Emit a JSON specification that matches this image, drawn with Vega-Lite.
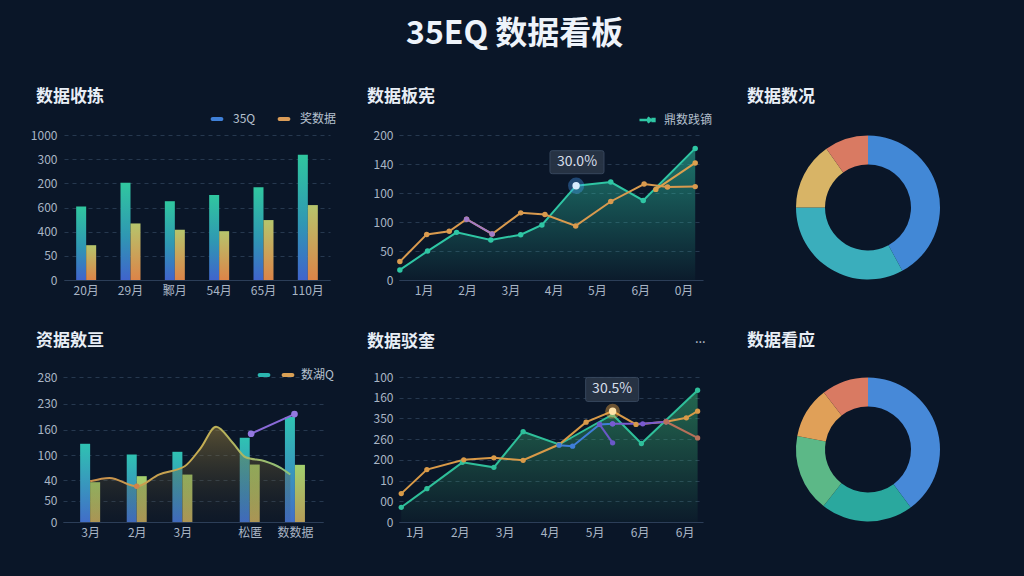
{
  "$schema": "https://vega.github.io/schema/vega-lite/v6.json",
  "background": "#0a1628",
  "padding": {"left": 29, "top": 18, "right": 67, "bottom": 38},
  "title": {
    "text": "35EQ 数据看板",
    "anchor": "start",
    "frame": "group",
    "dx": 343,
    "fontSize": 32,
    "fontWeight": "bold",
    "color": "#eef3fa",
    "offset": 37
  },
  "datasets": {
    "p1": [
      {"m": "20月", "s": "35Q", "v": 152}, {"m": "20月", "s": "奖数据", "v": 72},
      {"m": "29月", "s": "35Q", "v": 201}, {"m": "29月", "s": "奖数据", "v": 117},
      {"m": "鄹月", "s": "35Q", "v": 163}, {"m": "鄹月", "s": "奖数据", "v": 104},
      {"m": "54月", "s": "35Q", "v": 176}, {"m": "54月", "s": "奖数据", "v": 101},
      {"m": "65月", "s": "35Q", "v": 192}, {"m": "65月", "s": "奖数据", "v": 124},
      {"m": "110月", "s": "35Q", "v": 259}, {"m": "110月", "s": "奖数据", "v": 155}
    ],
    "p2": [
      {"s": "teal", "x": 0.45, "y": 13.9}, {"s": "teal", "x": 1.09, "y": 39.9},
      {"s": "teal", "x": 1.76, "y": 65.7}, {"s": "teal", "x": 2.55, "y": 55.1},
      {"s": "teal", "x": 3.24, "y": 62.5}, {"s": "teal", "x": 3.73, "y": 76.0},
      {"s": "teal", "x": 4.52, "y": 130.1}, {"s": "teal", "x": 5.32, "y": 135.1},
      {"s": "teal", "x": 6.07, "y": 109.7}, {"s": "teal", "x": 7.27, "y": 181.5},
      {"s": "orange", "x": 0.45, "y": 25.4}, {"s": "orange", "x": 1.07, "y": 62.9},
      {"s": "orange", "x": 1.59, "y": 67.1}, {"s": "orange", "x": 1.99, "y": 83.8},
      {"s": "orange", "x": 2.58, "y": 63.5}, {"s": "orange", "x": 3.24, "y": 92.6},
      {"s": "orange", "x": 3.8, "y": 90.3}, {"s": "orange", "x": 4.51, "y": 74.6},
      {"s": "orange", "x": 5.32, "y": 108.3}, {"s": "orange", "x": 6.09, "y": 132.4},
      {"s": "orange", "x": 6.63, "y": 128.2}, {"s": "orange", "x": 7.27, "y": 128.8},
      {"s": "orange2", "x": 6.36, "y": 125}, {"s": "orange2", "x": 7.27, "y": 161.5},
      {"s": "purple", "x": 1.99, "y": 83.8}, {"s": "purple", "x": 2.58, "y": 63.5}
    ],
    "p2hi": [{"x": 4.52, "y": 130.1}],
    "p2tip": [{"x": 4.54, "y": 162.5, "t": "30.0%"}],
    "p3": [
      {"k": "a", "v": 42.1, "o": 1}, {"k": "b", "v": 32.9, "o": 2},
      {"k": "c", "v": 15.2, "o": 3}, {"k": "d", "v": 9.8, "o": 4}
    ],
    "p4bars": [
      {"p": 1, "s": "a", "v": 78}, {"p": 1, "s": "b", "v": 39.7},
      {"p": 2.01, "s": "a", "v": 67.3}, {"p": 2.01, "s": "b", "v": 45.7},
      {"p": 3, "s": "a", "v": 70}, {"p": 3, "s": "b", "v": 47.3},
      {"p": 4.46, "s": "a", "v": 84}, {"p": 4.46, "s": "b", "v": 57.3},
      {"p": 5.44, "s": "a", "v": 104.7}, {"p": 5.44, "s": "b", "v": 57}
    ],
    "p4curve": [
      {"p": 1.0, "v": 40.6}, {"p": 1.42, "v": 44}, {"p": 2.01, "v": 35.6},
      {"p": 2.49, "v": 47.3}, {"p": 3.05, "v": 55.6}, {"p": 3.4, "v": 74},
      {"p": 3.73, "v": 95}, {"p": 4.09, "v": 79}, {"p": 4.37, "v": 64.6},
      {"p": 4.79, "v": 60.6}, {"p": 5.13, "v": 54}, {"p": 5.34, "v": 47.3}
    ],
    "p4mark": [{"p": 2.01, "v": 35.6}],
    "p4purple": [{"p": 4.49, "v": 88}, {"p": 5.43, "v": 107.6}],
    "p5": [
      {"s": "teal", "x": 0.7, "y": 0.71}, {"s": "teal", "x": 1.27, "y": 1.61},
      {"s": "teal", "x": 2.06, "y": 2.88}, {"s": "teal", "x": 2.76, "y": 2.64},
      {"s": "teal", "x": 3.41, "y": 4.36}, {"s": "teal", "x": 4.21, "y": 3.74},
      {"s": "teal", "x": 5.4, "y": 5.19}, {"s": "teal", "x": 6.04, "y": 3.79},
      {"s": "teal", "x": 7.29, "y": 6.36},
      {"s": "orange", "x": 0.7, "y": 1.37}, {"s": "orange", "x": 1.27, "y": 2.53},
      {"s": "orange", "x": 2.09, "y": 3.0}, {"s": "orange", "x": 2.76, "y": 3.1},
      {"s": "orange", "x": 3.41, "y": 2.98}, {"s": "orange", "x": 4.21, "y": 3.74},
      {"s": "orange", "x": 4.81, "y": 4.82}, {"s": "orange", "x": 5.4, "y": 5.35},
      {"s": "orange", "x": 5.92, "y": 4.71}, {"s": "orange", "x": 6.59, "y": 4.84},
      {"s": "orange", "x": 7.04, "y": 5.03}, {"s": "orange", "x": 7.29, "y": 5.35},
      {"s": "blue", "x": 4.21, "y": 3.71}, {"s": "blue", "x": 4.51, "y": 3.66},
      {"s": "blue", "x": 5.11, "y": 4.71}, {"s": "blue", "x": 5.4, "y": 4.74},
      {"s": "purple", "x": 5.4, "y": 4.74}, {"s": "purple", "x": 6.07, "y": 4.74},
      {"s": "purple", "x": 6.59, "y": 4.84},
      {"s": "purple2", "x": 5.11, "y": 4.71}, {"s": "purple2", "x": 5.4, "y": 3.82},
      {"s": "brown", "x": 6.59, "y": 4.84}, {"s": "brown", "x": 7.29, "y": 4.06}
    ],
    "p5hi": [{"x": 5.4, "y": 5.35}],
    "p5tip": [{"x": 5.39, "y": 6.4, "t": "30.5%"}],
    "p5more": [{"x": 7.35, "y": 8.85, "t": "..."}],
    "p6": [
      {"k": "a", "v": 39.9, "o": 1}, {"k": "b", "v": 20.7, "o": 2},
      {"k": "c", "v": 17.4, "o": 3}, {"k": "d", "v": 11.5, "o": 4},
      {"k": "e", "v": 10.5, "o": 5}
    ]
  },
  "bounds": "flush",
  "columns": 3,
  "spacing": {"row": 97, "column": 76},
  "resolve": {
    "scale": {"x": "independent", "y": "independent", "color": "independent", "theta": "independent"},
    "legend": {"color": "independent"}
  },
  "concat": [
    {
      "width": 260,
      "height": 145,
      "title": {"text": "数据收拣", "offset": 5, "dx": 7},
      "data": {"name": "p1"},
      "encoding": {
        "x": {
          "field": "m", "type": "nominal", "sort": null,
          "scale": {"range": [1, 267], "paddingInner": 0, "paddingOuter": 0},
          "axis": {"title": null, "labelAngle": 0}
        },
        "y": {
          "field": "v", "type": "quantitative",
          "scale": {"domain": [0, 300], "nice": false},
          "axis": {
            "title": null, "grid": true,
            "values": [0, 50, 100, 150, 200, 250, 300],
            "labelExpr": "['0','50','400','600','200','300','1000'][datum.value/50]"
          }
        }
      },
      "layer": [
        {
          "transform": [{"filter": "datum.s == '35Q'"}],
          "mark": {
            "type": "bar", "width": 10, "xOffset": -5,
            "fill": {
              "gradient": "linear", "x1": 0, "y1": 0, "x2": 0, "y2": 1,
              "stops": [{"offset": 0, "color": "#30c79f"}, {"offset": 0.55, "color": "#2f97b3"}, {"offset": 1, "color": "#4064cc"}]
            }
          }
        },
        {
          "transform": [{"filter": "datum.s == '奖数据'"}],
          "mark": {
            "type": "bar", "width": 10, "xOffset": 5,
            "fill": {
              "gradient": "linear", "x1": 0, "y1": 0, "x2": 0, "y2": 1,
              "stops": [{"offset": 0, "color": "#b6c56c"}, {"offset": 1, "color": "#dc8448"}]
            }
          }
        },
        {
          "mark": {"type": "bar"},
          "encoding": {
            "y": {"datum": 0, "type": "quantitative"},
            "y2": {"datum": 0},
            "color": {
              "field": "s", "type": "nominal",
              "scale": {"domain": ["35Q", "奖数据"], "range": ["#3f80d8", "#d99c58"]},
              "legend": {
                "title": null, "orient": "none", "legendX": 146, "legendY": -24,
                "direction": "horizontal",
                "symbolType": "M-0.6,-0.3H0.6A0.3,0.3 0 0 1 0.6,0.3H-0.6A0.3,0.3 0 0 1 -0.6,-0.3Z",
                "symbolSize": 200, "columnPadding": 20, "labelOffset": 8
              }
            }
          }
        }
      ]
    },
    {
      "width": 304,
      "height": 145,
      "title": {"text": "数据板宪", "offset": 5, "dx": 2},
      "encoding": {
        "x": {
          "field": "x", "type": "quantitative",
          "scale": {"domain": [0.43, 7.45], "nice": false, "zero": false},
          "axis": {"title": null, "values": [1, 2, 3, 4, 5, 6, 7], "labelExpr": "['','1月','2月','3月','4月','5月','6月','0月'][datum.value]"}
        },
        "y": {
          "field": "y", "type": "quantitative",
          "scale": {"domain": [0, 200], "nice": false},
          "axis": {"title": null, "grid": true, "values": [0, 40, 80, 120, 160, 200], "labelExpr": "['0','50','100','100','140','200'][datum.value/40]"}
        }
      },
      "layer": [
        {
          "data": {"name": "p2"},
          "transform": [{"filter": "datum.s == 'teal'"}],
          "mark": {
            "type": "area",
            "fill": {
              "gradient": "linear", "x1": 0, "y1": 0, "x2": 0, "y2": 1,
              "stops": [{"offset": 0, "color": "rgba(46,196,164,0.55)"}, {"offset": 1, "color": "rgba(46,196,164,0.03)"}]
            }
          }
        },
        {
          "data": {"name": "p2"},
          "mark": {"type": "line", "strokeWidth": 2},
          "encoding": {
            "color": {
              "field": "s", "type": "nominal",
              "scale": {"domain": ["teal", "orange", "orange2", "purple"], "range": ["#2fc6a4", "#d99a4e", "#dba04e", "#a27ac8"]},
              "legend": {
                "title": null, "orient": "none", "legendX": 239, "legendY": -24,
                "values": ["teal"], "labelExpr": "'鼎数践镝'",
                "symbolType": "M-1,0H0.4M0.1,-0.35L0.5,0L0.1,0.35M0.75,-0.12H0.99V0.12H0.75Z",
                "symbolSize": 225, "symbolStrokeWidth": 2.5, "labelOffset": 8
              }
            }
          }
        },
        {
          "data": {"name": "p2"},
          "mark": {"type": "point", "filled": true, "size": 30, "opacity": 1},
          "encoding": {"color": {"field": "s", "type": "nominal"}}
        },
        {
          "data": {"name": "p2hi"},
          "mark": {"type": "point", "filled": true, "size": 260, "color": "#4aa3ff", "opacity": 0.35}
        },
        {
          "data": {"name": "p2hi"},
          "mark": {"type": "point", "filled": true, "size": 55, "color": "#d8ecff", "opacity": 1}
        },
        {
          "data": {"name": "p2tip"},
          "mark": {
            "type": "point", "filled": true, "size": 2916, "color": "#283445", "opacity": 0.95,
            "stroke": "#3a4a60", "strokeWidth": 1,
            "shape": "M-0.92,-0.426H0.92Q1,-0.426 1,-0.35V0.35Q1,0.426 0.92,0.426H-0.92Q-1,0.426 -1,0.35V-0.35Q-1,-0.426 -0.92,-0.426Z"
          }
        },
        {
          "data": {"name": "p2tip"},
          "mark": {"type": "text", "fontSize": 14, "color": "#d6dee9"},
          "encoding": {"text": {"field": "t"}}
        }
      ]
    },
    {
      "width": 178,
      "height": 145,
      "title": {"text": "数据数况", "offset": 29, "dx": -32},
      "data": {"name": "p3"},
      "mark": {"type": "arc", "innerRadius": 43, "outerRadius": 72},
      "encoding": {
        "theta": {"field": "v", "type": "quantitative", "stack": true},
        "order": {"field": "o", "type": "quantitative"},
        "color": {
          "field": "k", "type": "nominal",
          "scale": {"domain": ["a", "b", "c", "d"], "range": ["#4288d6", "#3aaebc", "#d8b466", "#d97a62"]},
          "legend": null
        }
      }
    },
    {
      "width": 260,
      "height": 145,
      "title": {"text": "资据敫亘", "offset": 17, "dx": 7},
      "encoding": {
        "x": {
          "field": "p", "type": "quantitative",
          "scale": {"domain": [0.52, 5.94], "nice": false, "zero": false},
          "axis": {"title": null, "values": [1, 2.01, 3, 4.46, 5.44], "labelExpr": "datum.value < 1.5 ? '3月' : datum.value < 2.5 ? '2月' : datum.value < 3.5 ? '3月' : datum.value < 5 ? '松匿' : '数数据'"}
        },
        "y": {
          "field": "v", "type": "quantitative",
          "scale": {"domain": [0, 144.6], "nice": false},
          "axis": {
            "title": null, "grid": true,
            "values": [0, 21.3, 41.6, 66.6, 92, 118, 144.6],
            "labelExpr": "['0','50','40','100','160','230','280'][indexof([0,21.3,41.6,66.6,92,118,144.6], datum.value)]"
          }
        }
      },
      "layer": [
        {
          "data": {"name": "p4bars"},
          "transform": [{"filter": "datum.s == 'a'"}],
          "mark": {
            "type": "bar", "width": 10, "xOffset": -5,
            "fill": {
              "gradient": "linear", "x1": 0, "y1": 0, "x2": 0, "y2": 1,
              "stops": [{"offset": 0, "color": "#2fc2b2"}, {"offset": 1, "color": "#416ec8"}]
            }
          }
        },
        {
          "data": {"name": "p4bars"},
          "transform": [{"filter": "datum.s == 'b'"}],
          "mark": {
            "type": "bar", "width": 10, "xOffset": 5,
            "fill": {
              "gradient": "linear", "x1": 0, "y1": 0, "x2": 0, "y2": 1,
              "stops": [{"offset": 0, "color": "#a3d06e"}, {"offset": 1, "color": "#b59c58"}]
            }
          }
        },
        {
          "data": {"name": "p4curve"},
          "mark": {
            "type": "area", "interpolate": "monotone",
            "fill": {
              "gradient": "linear", "x1": 0, "y1": 0, "x2": 0, "y2": 1,
              "stops": [{"offset": 0, "color": "rgba(150,125,60,0.55)"}, {"offset": 1, "color": "rgba(60,55,40,0.08)"}]
            }
          }
        },
        {
          "data": {"name": "p4curve"},
          "mark": {
            "type": "line", "interpolate": "monotone", "strokeWidth": 2,
            "stroke": {
              "gradient": "linear", "x1": 0, "y1": 0, "x2": 1, "y2": 0,
              "stops": [{"offset": 0, "color": "#c98e4c"}, {"offset": 0.55, "color": "#c6ad52"}, {"offset": 1, "color": "#8cc27a"}]
            }
          }
        },
        {
          "data": {"name": "p4mark"},
          "mark": {"type": "point", "filled": true, "size": 30, "color": "#d0844a", "opacity": 1}
        },
        {
          "data": {"name": "p4purple"},
          "mark": {"type": "line", "strokeWidth": 2, "color": "#8a6ad8"}
        },
        {
          "data": {"name": "p4purple"},
          "mark": {"type": "point", "filled": true, "size": 45, "color": "#9478e0", "opacity": 1}
        },
        {
          "data": {"name": "p4bars"},
          "mark": {"type": "bar"},
          "encoding": {
            "y": {"datum": 0, "type": "quantitative"},
            "y2": {"datum": 0},
            "color": {
              "field": "s", "type": "nominal",
              "scale": {"domain": ["a", "b"], "range": ["#2bb5b0", "#d9a055"]},
              "legend": {
                "title": null, "orient": "none", "legendX": 193, "legendY": -10,
                "direction": "horizontal",
                "labelExpr": "datum.label == 'b' ? '数湖Q' : ''",
                "symbolType": "M-0.6,-0.3H0.6A0.3,0.3 0 0 1 0.6,0.3H-0.6A0.3,0.3 0 0 1 -0.6,-0.3Z",
                "symbolSize": 200, "columnPadding": 3, "labelOffset": 5
              }
            }
          }
        }
      ]
    },
    {
      "width": 304,
      "height": 145,
      "title": {"text": "数据驳奎", "offset": -18, "dx": 2},
      "encoding": {
        "x": {
          "field": "x", "type": "quantitative",
          "scale": {"domain": [0.65, 7.41], "nice": false, "zero": false},
          "axis": {"title": null, "values": [1, 2, 3, 4, 5, 6, 7], "labelExpr": "['','1月','2月','3月','4月','5月','6月','6月'][datum.value]"}
        },
        "y": {
          "field": "y", "type": "quantitative",
          "scale": {"domain": [0, 7], "nice": false},
          "axis": {"title": null, "grid": true, "values": [0, 1, 2, 3, 4, 5, 6, 7], "labelExpr": "['0','00','10','200','260','350','160','100'][datum.value]"}
        }
      },
      "layer": [
        {
          "data": {"name": "p5"},
          "transform": [{"filter": "datum.s == 'teal'"}],
          "mark": {
            "type": "area",
            "fill": {
              "gradient": "linear", "x1": 0, "y1": 0, "x2": 0, "y2": 1,
              "stops": [{"offset": 0, "color": "rgba(60,185,120,0.5)"}, {"offset": 1, "color": "rgba(60,185,120,0.03)"}]
            }
          }
        },
        {
          "data": {"name": "p5"},
          "mark": {"type": "line", "strokeWidth": 2},
          "encoding": {
            "color": {
              "field": "s", "type": "nominal",
              "scale": {"domain": ["teal", "orange", "blue", "purple", "purple2", "brown"], "range": ["#2fbf9a", "#d99a48", "#3f7ed8", "#7a5ad0", "#6a58c8", "#b8705a"]},
              "legend": null
            }
          }
        },
        {
          "data": {"name": "p5"},
          "mark": {"type": "point", "filled": true, "size": 28, "opacity": 1},
          "encoding": {"color": {"field": "s", "type": "nominal", "legend": null}}
        },
        {
          "data": {"name": "p5hi"},
          "mark": {"type": "point", "filled": true, "size": 220, "color": "#ffb040", "opacity": 0.4}
        },
        {
          "data": {"name": "p5hi"},
          "mark": {"type": "point", "filled": true, "size": 55, "color": "#ffe2a8", "opacity": 1}
        },
        {
          "data": {"name": "p5tip"},
          "mark": {
            "type": "point", "filled": true, "size": 2809, "color": "#283445", "opacity": 0.95,
            "stroke": "#3a4a60", "strokeWidth": 1,
            "shape": "M-0.92,-0.453H0.92Q1,-0.453 1,-0.37V0.37Q1,0.453 0.92,0.453H-0.92Q-1,0.453 -1,0.37V-0.37Q-1,-0.453 -0.92,-0.453Z"
          }
        },
        {
          "data": {"name": "p5tip"},
          "mark": {"type": "text", "fontSize": 14, "color": "#d6dee9"},
          "encoding": {"text": {"field": "t"}}
        },
        {
          "data": {"name": "p5more"},
          "mark": {"type": "text", "fontSize": 13, "color": "#c0c8d4", "clip": false},
          "encoding": {"text": {"field": "t"}}
        }
      ]
    },
    {
      "width": 178,
      "height": 145,
      "title": {"text": "数据看应", "offset": 27, "dx": -32},
      "data": {"name": "p6"},
      "mark": {"type": "arc", "innerRadius": 43, "outerRadius": 72},
      "encoding": {
        "theta": {"field": "v", "type": "quantitative", "stack": true},
        "order": {"field": "o", "type": "quantitative"},
        "color": {
          "field": "k", "type": "nominal",
          "scale": {"domain": ["a", "b", "c", "d", "e"], "range": ["#4789d8", "#2aa89e", "#5cb887", "#e0a058", "#d97a62"]},
          "legend": null
        }
      }
    }
  ],
  "config": {
    "font": "Noto Sans CJK SC",
    "view": {"stroke": null},
    "axis": {
      "labelColor": "#a9b5c5",
      "labelFontSize": 12,
      "ticks": false,
      "domain": false,
      "grid": false,
      "gridColor": "#26384f",
      "gridDash": [4, 4],
      "labelPadding": 6
    },
    "axisX": {"domain": true, "domainColor": "#2c3e58", "labelPadding": 5},
    "axisY": {"minExtent": 34, "maxExtent": 34},
    "legend": {"labelColor": "#b5c0ce", "labelFontSize": 12},
    "title": {"color": "#e8eef6", "fontSize": 17, "fontWeight": "bold", "anchor": "start", "frame": "bounds"}
  }
}
